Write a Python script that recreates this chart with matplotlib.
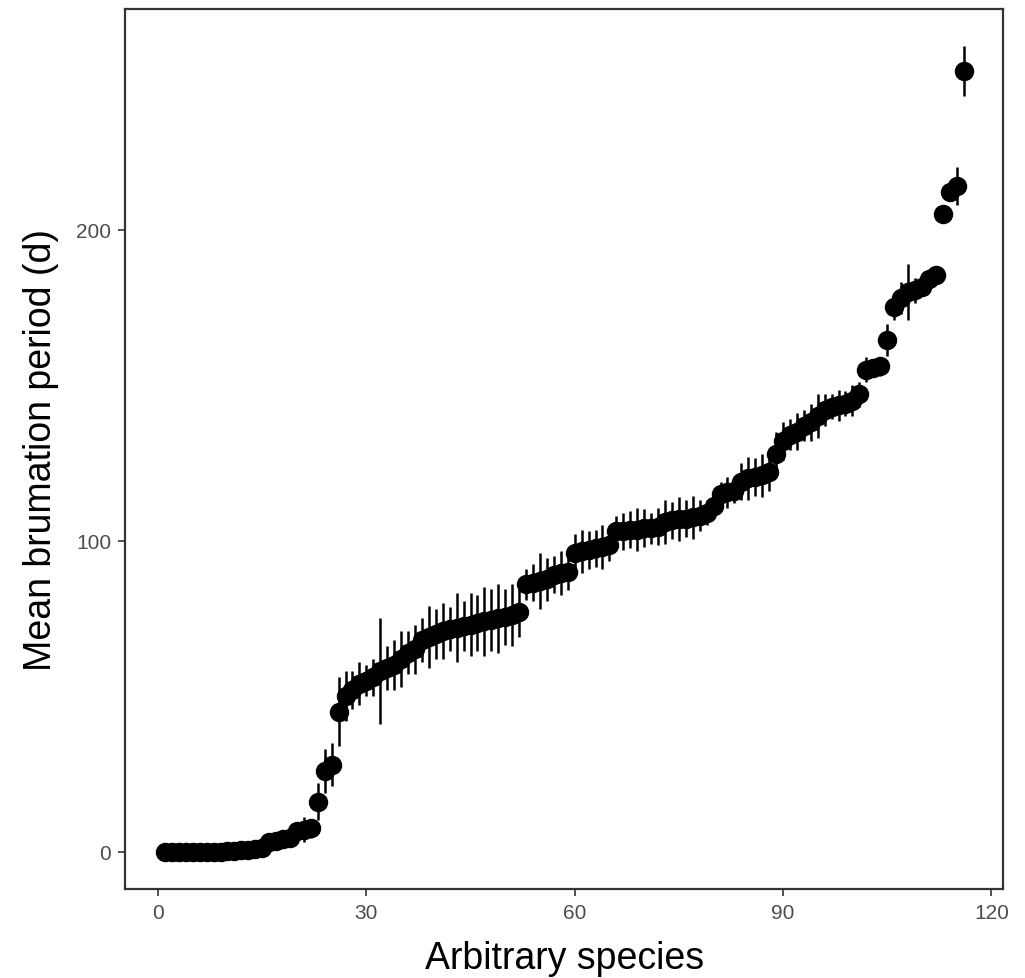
import numpy as np
import matplotlib
matplotlib.use("Agg")
import matplotlib.pyplot as plt

plt.rcParams["font.family"] = ["Liberation Sans", "DejaVu Sans"]

# mean brumation period per species (days), sorted
mean_days = [
    0, 0, 0, 0, 0, 0, 0, 0, 0, 0.2, 0.3, 0.5, 0.6, 0.8, 1,
    3, 3.5, 4, 4.5, 6.5, 7, 7.5,
    16, 26, 28, 45,
    50, 52, 54, 55, 56, 58, 59, 60, 62, 64, 65,
    68, 69, 70, 71, 71.5, 72, 72.5, 73, 73.5, 74, 74.5, 75, 75.5, 76, 77,
    86, 86.5, 87, 87.5, 89, 89.5, 90,
    96, 96.5, 97, 97.5, 98, 98.5,
    103, 103, 103.5, 103.5, 104, 104, 104.5,
    106, 106.5, 107, 107, 107.5, 108, 109, 111,
    115, 115.5, 116, 119, 120, 120.5, 121, 122,
    128, 132, 134, 135, 137, 138, 140, 142, 143, 143.5, 144, 145, 147,
    155, 155.5, 156, 164.5, 175, 178, 180, 180.5, 181.5, 184, 185.5,
    205, 212, 214, 251,
]

# error half-widths (days)
err_days = [
    0, 0, 0, 0, 0, 0, 0, 0, 0, 0, 0, 0, 0, 0, 0,
    1, 1.5, 2, 2, 2.5, 4, 3,
    6, 7, 7, 11,
    8, 6, 7, 5, 6, 17, 7, 8, 9, 7, 8,
    7, 10, 8, 9, 7, 11, 8, 10, 9, 11, 10, 11, 9, 10, 8,
    5, 6, 9, 7, 6, 7, 6,
    6, 7, 6, 6, 7, 5,
    5, 6, 6, 7, 6, 5, 6,
    7, 6, 7, 6, 7, 5, 4, 3,
    4, 5, 4, 6, 7, 6, 7, 6,
    7, 6, 5, 6, 5, 6, 7, 5, 4, 5, 4, 5, 4,
    4, 3, 3, 5, 4, 5, 9, 4, 3, 3, 2,
    0, 0, 6, 8,
]

species = np.arange(1, len(mean_days) + 1)

fig = plt.figure(figsize=(10.25, 9.79), dpi=100)
ax = fig.add_axes([0.122, 0.091, 0.857, 0.899])

ax.errorbar(species, mean_days, yerr=err_days, fmt="o", color="black",
            markersize=13, elinewidth=1.8, capsize=0, zorder=3)

ax.set_xlim(-4.75, 121.75)
ax.set_ylim(-12, 271)
ax.set_xticks([0, 30, 60, 90, 120])
ax.set_yticks([0, 100, 200])

for side in ax.spines.values():
    side.set_color("#333333")
    side.set_linewidth(1.6)
ax.tick_params(colors="#333333", length=5, width=1.2, labelsize=15,
               labelcolor="#4D4D4D", pad=5)

ax.set_xlabel("Arbitrary species", fontsize=27, labelpad=13)
ax.set_ylabel("Mean brumation period (d)", fontsize=27, labelpad=12)

fig.savefig("out.png", dpi=100)
